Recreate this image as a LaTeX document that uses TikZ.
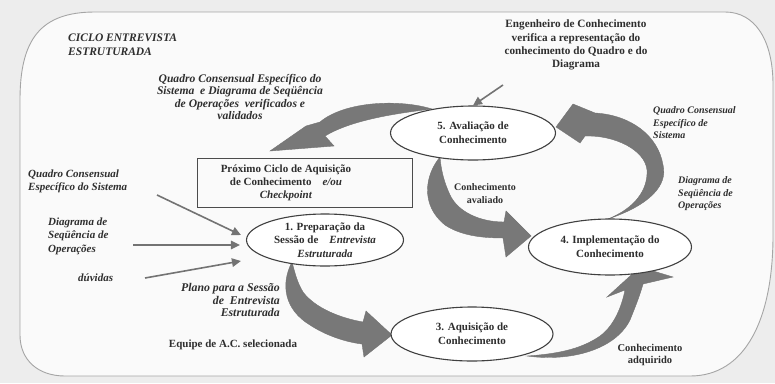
\documentclass[tikz,border=0pt]{standalone}
\usepackage{fontspec}
\setmainfont{Liberation Serif}
\usetikzlibrary{arrows.meta,shapes.geometric,calc,backgrounds}
\definecolor{txt}{HTML}{2E2E2E}
\definecolor{bg}{HTML}{EDEDED}
\definecolor{inner}{HTML}{FAFAFA}
\definecolor{arrowfill}{HTML}{787878}
\definecolor{framec}{HTML}{A5A5A5}
\begin{document}
\begin{tikzpicture}[x=1pt,y=-1pt,
  every node/.style={text=txt,inner sep=0pt},
  stage/.style={ellipse,draw=black!75,line width=1.1pt,fill=white,inner sep=0pt},
  stagetext/.style={align=center,font=\fontsize{11}{14}\selectfont\bfseries},
  lbl/.style={align=center,font=\fontsize{11}{13}\selectfont\bfseries},
  ilbl/.style={font=\fontsize{11}{13}\selectfont\bfseries\itshape},
  bigarrow/.style={fill=arrowfill,draw=black!55,line width=0.4pt},
  thinarr/.style={draw=black!55,line width=1.6pt,-{Triangle[length=9pt,width=8.5pt]}}]
\useasboundingbox (0,0) rectangle (775,383);

% ---- stages ----
\node[stage,minimum width=165pt,minimum height=54pt] (e5) at (473,133) {};
\node[stage,minimum width=157pt,minimum height=52pt] (e2) at (325,240) {};
\node[stage,minimum width=163pt,minimum height=56pt] (e4) at (610,247) {};
\node[stage,minimum width=162pt,minimum height=54pt] (e3) at (472,334) {};
\node[stagetext] (t5) at (e5) {5. Avaliação de\\Conhecimento};
\node[stagetext,font=\fontsize{11}{13.5}\selectfont\bfseries] (t2) at (e2) {1. Preparação da\\Sessão de\quad\textit{Entrevista}\\\textit{Estruturada}};
\node[stagetext] (t4) at (e4) {4. Implementação do\\Conhecimento};
\node[stagetext] (t3) at (e3) {3. Aquisição de\\Conhecimento};

% ---- box ----
\node[draw=black!70,line width=0.9pt,minimum width=215pt,minimum height=49pt] (box) at (304.5,182.5) {};
\node[lbl] (boxt) at (286,183) {Próximo Ciclo de Aquisição\\de Conhecimento\quad\textit{e/ou}\\\textit{Checkpoint}};

% ---- labels ----
\node[ilbl,anchor=west,align=left,font=\fontsize{11.5}{14}\selectfont\bfseries\itshape] (title) at (68,45) {CICLO ENTREVISTA\\ESTRUTURADA};
\node[ilbl,align=center,font=\fontsize{11.6}{12.5}\selectfont\bfseries\itshape] (tl) at (240,97) {Quadro Consensual Específico do\\Sistema \ e Diagrama de Seqüência\\de Operações \ verificados e\\validados};
\node[lbl,font=\fontsize{11.2}{13.3}\selectfont\bfseries] (eng) at (576,45) {Engenheiro de Conhecimento\\verifica a representação do\\conhecimento do Quadro e do\\Diagrama};
\node[ilbl,anchor=west,align=left] (lq) at (28,181.5) {Quadro Consensual\\Específico do Sistema};
\node[ilbl,anchor=west,align=left,font=\fontsize{11}{13.5}\selectfont\bfseries\itshape] (ld) at (48,236) {Diagrama de\\Seqüência de\\Operações};
\node[ilbl,anchor=west] (duv) at (78,278) {dúvidas};
\node[ilbl,anchor=east,align=right,font=\fontsize{11.8}{12.5}\selectfont\bfseries\itshape] (plano) at (280,300) {Plano para a Sessão\\de \ Entrevista\\Estruturada};
\node[lbl] (equipe) at (233,345) {Equipe de A.C. selecionada};
\node[lbl,font=\fontsize{10}{13}\selectfont\bfseries] (aval) at (485,193.5) {Conhecimento\\avaliado};
\node[lbl,font=\fontsize{10.5}{12.5}\selectfont\bfseries] (adq) at (650,355) {Conhecimento\\adquirido};
\node[ilbl,anchor=west,align=left,font=\fontsize{10}{12.5}\selectfont\bfseries\itshape] (rq) at (653,123) {Quadro Consensual\\Específico de\\Sistema};
\node[ilbl,anchor=west,align=left,font=\fontsize{10}{12.5}\selectfont\bfseries\itshape] (rd) at (678,194) {Diagrama de\\Seqüência de\\Operações};

% ---- thin arrows ----
\coordinate (engtail) at (503,85);
\coordinate (a1) at (157,195);
\coordinate (a2) at (133,245);
\coordinate (a3) at (145,278);
\draw[thinarr] (engtail) -- (e5.north);
\draw[thinarr] (a1) -- ($(e2.west)+(-5,-5)$);
\draw[thinarr] (a2) -- ($(e2.west)+(-6,5)$);
\draw[thinarr] (a3) -- ($(e2.west)+(-5,21)$);

% ---- background, frame, big arrows ----
\begin{scope}[on background layer]
\fill[bg] (0,0) rectangle (775,383);
\draw[framec,line width=0.9pt,fill=inner] (20,100) .. controls (20,40) and (40,12) .. (95,12) -- (725,12)
  .. controls (755,12) and (773,40) .. (773,85) -- (773,235)
  .. controls (773,320) and (745,376) .. (690,376) -- (65,376)
  .. controls (38,376) and (20,360) .. (20,335) -- cycle;
% 5 -> box
\path[bigarrow] (432,109) .. controls (400,99) and (345,101) .. (320,122) -- (306,126) -- (270,151) -- (334,146) -- (325,136)
  .. controls (350,121) and (390,114) .. (432,109) -- cycle;
% 4 -> 5
\path[bigarrow] (608,219) .. controls (650,205) and (668,185) .. (663,165) .. controls (658,135) and (630,115) .. (595,113)
  -- (573,104) -- (556,127) -- (580,143) -- (585,136)
  .. controls (615,135) and (645,150) .. (647,170) .. controls (648,190) and (635,208) .. (608,219) -- cycle;
% 5 -> 4
\path[bigarrow] (440,157) .. controls (425,175) and (420,205) .. (445,225) .. controls (460,235) and (480,238) .. (503,238)
  -- (506,257) -- (531,236) -- (506,211) -- (504,222)
  .. controls (480,222) and (458,212) .. (450,195) .. controls (444,182) and (441,170) .. (440,157) -- cycle;
% 2 -> 3
\path[bigarrow] (292,262) .. controls (280,285) and (285,310) .. (310,325) .. controls (325,335) and (345,342) .. (362,344)
  -- (364,357) -- (392,335) -- (366,311) -- (363,322)
  .. controls (340,318) and (315,308) .. (303,292) .. controls (297,282) and (295,273) .. (292,262) -- cycle;
% 3 -> 4
\path[bigarrow] (527,356) .. controls (570,362) and (615,350) .. (630,320) .. controls (636,305) and (640,295) .. (643,284)
  -- (673,277) -- (640,267) -- (607,297) -- (625,290)
  .. controls (622,305) and (615,325) .. (600,336) .. controls (580,350) and (555,354) .. (527,356) -- cycle;
\end{scope}
\end{tikzpicture}
\end{document}
